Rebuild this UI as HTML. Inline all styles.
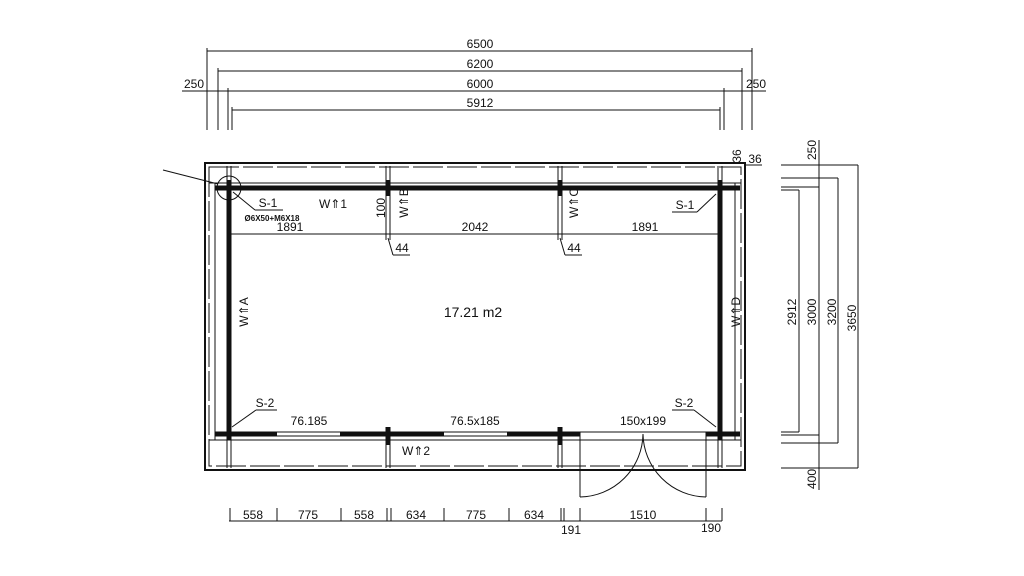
<!DOCTYPE html>
<html><head><meta charset="utf-8"><style>
html,body{margin:0;padding:0;background:#fff;}
svg{display:block;}
text{font-family:"Liberation Sans",sans-serif;font-size:12px;fill:#111;}
</style></head><body>
<svg width="1024" height="576" viewBox="0 0 1024 576" xmlns="http://www.w3.org/2000/svg">
<g stroke="#111" stroke-width="1" fill="none">
<!-- top dims -->
<line x1="207" y1="51" x2="752" y2="51"/>
<line x1="218" y1="71" x2="742" y2="71"/>
<line x1="182" y1="91" x2="766" y2="91"/>
<line x1="232" y1="110" x2="720" y2="110"/>
<line x1="207" y1="48" x2="207" y2="130"/>
<line x1="218" y1="68" x2="218" y2="130"/>
<line x1="228" y1="88" x2="228" y2="130"/>
<line x1="232" y1="107" x2="232" y2="130"/>
<line x1="752" y1="48" x2="752" y2="130"/>
<line x1="742" y1="68" x2="742" y2="130"/>
<line x1="724" y1="88" x2="724" y2="130"/>
<line x1="720" y1="107" x2="720" y2="130"/>
<!-- outer walls -->
<rect x="205" y="163" width="540" height="307" stroke-width="2"/>
<rect x="209" y="167" width="532" height="299" stroke-dasharray="30 4"/>
<!-- inner thin lines around -->
<line x1="209" y1="440" x2="741" y2="440"/>
<line x1="209" y1="183" x2="741" y2="183"/>
<line x1="215" y1="183" x2="215" y2="440"/>
<line x1="735" y1="183" x2="735" y2="440"/>
<!-- posts -->
<line x1="386" y1="166" x2="386" y2="240"/><line x1="390" y1="166" x2="390" y2="240"/>
<line x1="558" y1="166" x2="558" y2="240"/><line x1="562" y1="166" x2="562" y2="240"/>
<line x1="386" y1="433" x2="386" y2="468"/><line x1="390" y1="433" x2="390" y2="468"/>
<line x1="558" y1="433" x2="558" y2="468"/><line x1="562" y1="433" x2="562" y2="468"/>
<line x1="227" y1="166" x2="227" y2="183"/><line x1="231" y1="166" x2="231" y2="183"/>
<line x1="718" y1="166" x2="718" y2="183"/><line x1="722" y1="166" x2="722" y2="183"/>
<line x1="227" y1="440" x2="227" y2="468"/><line x1="231" y1="440" x2="231" y2="468"/>
<line x1="718" y1="440" x2="718" y2="468"/><line x1="722" y1="440" x2="722" y2="468"/>
<!-- thick walls -->
<g stroke-width="5">
<line x1="215" y1="188" x2="740" y2="188"/>
<line x1="229" y1="180" x2="229" y2="440"/>
<line x1="720" y1="180" x2="720" y2="440"/>
<line x1="215" y1="434" x2="277" y2="434"/>
<line x1="340" y1="434" x2="444" y2="434"/>
<line x1="507" y1="434" x2="580" y2="434"/>
<line x1="706" y1="434" x2="740" y2="434"/>
<line x1="388" y1="180" x2="388" y2="196"/>
<line x1="560" y1="180" x2="560" y2="196"/>
<line x1="388" y1="427" x2="388" y2="445"/>
<line x1="560" y1="427" x2="560" y2="445"/>
</g>
<!-- windows -->
<line x1="277" y1="432" x2="340" y2="432"/><line x1="277" y1="436" x2="340" y2="436"/>
<line x1="444" y1="432" x2="507" y2="432"/><line x1="444" y1="436" x2="507" y2="436"/>
<line x1="580" y1="432" x2="706" y2="432"/>
<!-- door -->
<line x1="580" y1="432" x2="580" y2="497"/>
<path d="M580 497 A64 64 0 0 0 643 434"/>
<line x1="706" y1="432" x2="706" y2="497"/>
<path d="M706 497 A64 64 0 0 1 643 434"/>
<!-- inner dim -->
<line x1="231" y1="234" x2="718" y2="234"/>
<line x1="388" y1="238" x2="393" y2="255"/><line x1="393" y1="255" x2="410" y2="255"/>
<line x1="560" y1="238" x2="565" y2="255"/><line x1="565" y1="255" x2="582" y2="255"/>
<!-- circle + leaders -->
<circle cx="229" cy="188" r="12"/>
<line x1="163" y1="170" x2="218" y2="184"/>
<line x1="233" y1="192" x2="255" y2="210"/><line x1="255" y1="210" x2="283" y2="210"/>
<line x1="716" y1="194" x2="697" y2="212"/><line x1="672" y1="212" x2="697" y2="212"/>
<line x1="232" y1="427" x2="256" y2="410"/><line x1="256" y1="410" x2="277" y2="410"/>
<line x1="716" y1="427" x2="694" y2="410"/><line x1="672" y1="410" x2="694" y2="410"/>
<line x1="745" y1="165" x2="762" y2="165"/>
<!-- right dims -->
<line x1="819" y1="140" x2="819" y2="490"/>
<line x1="799" y1="190" x2="799" y2="432"/>
<line x1="838" y1="178" x2="838" y2="443"/>
<line x1="858" y1="165" x2="858" y2="468"/>
<line x1="781" y1="165" x2="858" y2="165"/>
<line x1="781" y1="178" x2="838" y2="178"/>
<line x1="781" y1="187" x2="819" y2="187"/>
<line x1="781" y1="190" x2="799" y2="190"/>
<line x1="781" y1="432" x2="799" y2="432"/>
<line x1="781" y1="435" x2="819" y2="435"/>
<line x1="781" y1="443" x2="838" y2="443"/>
<line x1="781" y1="468" x2="858" y2="468"/>
<!-- bottom dims -->
<line x1="229" y1="521" x2="722" y2="521"/>
<g>
<line x1="230" y1="508" x2="230" y2="521"/><line x1="277" y1="508" x2="277" y2="521"/>
<line x1="341" y1="508" x2="341" y2="521"/><line x1="387" y1="508" x2="387" y2="521"/>
<line x1="391" y1="508" x2="391" y2="521"/><line x1="444" y1="508" x2="444" y2="521"/>
<line x1="509" y1="508" x2="509" y2="521"/><line x1="561" y1="508" x2="561" y2="521"/>
<line x1="564" y1="508" x2="564" y2="521"/><line x1="580" y1="508" x2="580" y2="521"/>
<line x1="706" y1="508" x2="706" y2="521"/><line x1="722" y1="508" x2="722" y2="521"/>
</g>
</g>
<!-- text -->
<g text-anchor="middle">
<text x="480" y="48">6500</text>
<text x="480" y="68">6200</text>
<text x="480" y="88">6000</text>
<text x="480" y="107">5912</text>
<text x="194" y="88">250</text>
<text x="756" y="88">250</text>
<text x="290" y="231">1891</text>
<text x="475" y="231">2042</text>
<text x="645" y="231">1891</text>
<text x="402" y="252">44</text>
<text x="574" y="252">44</text>
<text x="268" y="207">S-1</text>
<text x="272" y="221" style="font-size:8px;font-weight:bold">Ø6X50+M6X18</text>
<text x="685" y="209">S-1</text>
<text x="265" y="407">S-2</text>
<text x="684" y="407">S-2</text>
<text x="473" y="317" style="font-size:14px">17.21 m2</text>
<text x="309" y="425">76.185</text>
<text x="475" y="425">76.5x185</text>
<text x="643" y="425">150x199</text>
<text x="333" y="208">W⇑1</text>
<text x="416" y="455">W⇑2</text>
<text x="253" y="519">558</text>
<text x="308" y="519">775</text>
<text x="364" y="519">558</text>
<text x="416" y="519">634</text>
<text x="476" y="519">775</text>
<text x="534" y="519">634</text>
<text x="643" y="519">1510</text>
<text x="571" y="534">191</text>
<text x="711" y="532">190</text>
<text x="755" y="163">36</text>
<text transform="translate(741,156) rotate(-90)">36</text>
<text transform="translate(385,208) rotate(-90)">100</text>
<text transform="translate(408,203) rotate(-90)">W⇑B</text>
<text transform="translate(578,203) rotate(-90)">W⇑C</text>
<text transform="translate(248,312) rotate(-90)">W⇑A</text>
<text transform="translate(740,312) rotate(-90)">W⇑D</text>
<text transform="translate(796,312) rotate(-90)">2912</text>
<text transform="translate(816,312) rotate(-90)">3000</text>
<text transform="translate(836,312) rotate(-90)">3200</text>
<text transform="translate(856,318) rotate(-90)">3650</text>
<text transform="translate(816,150) rotate(-90)">250</text>
<text transform="translate(816,479) rotate(-90)">400</text>
</g>
</svg>
</body></html>
